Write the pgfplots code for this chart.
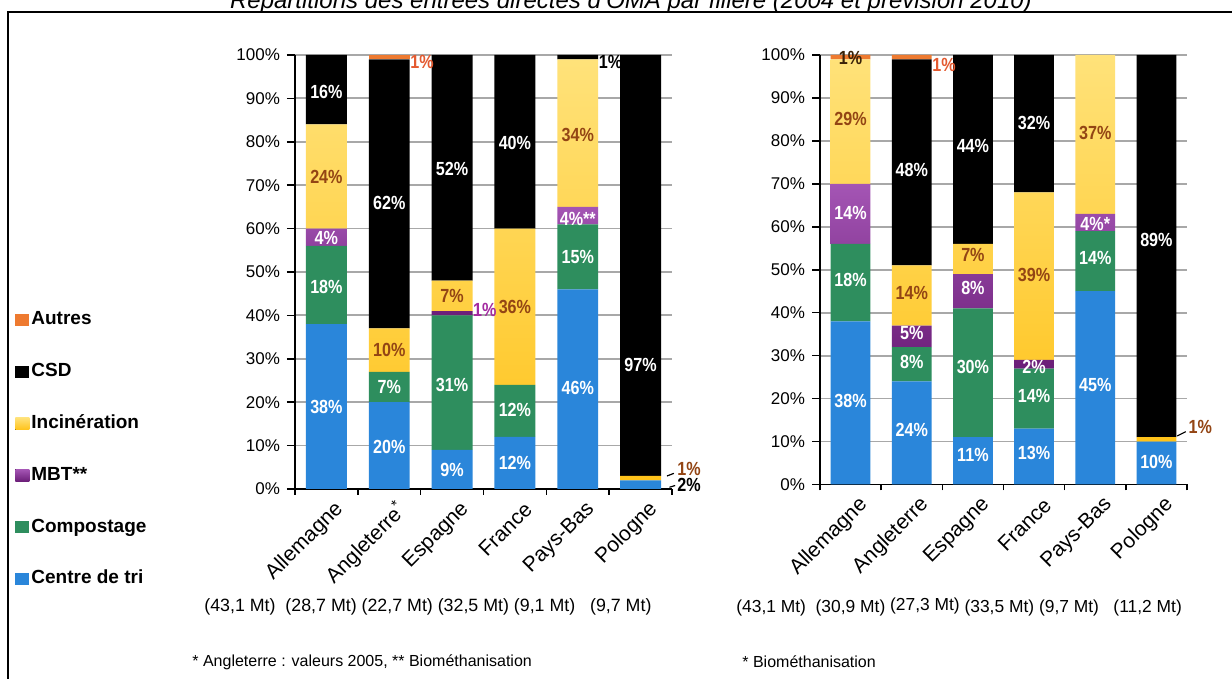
\documentclass[border=0pt]{standalone}
\usepackage{pgfplots}
\pgfplotsset{compat=1.18}
\usepackage{pgfplotstable}
\usepackage{fontspec}
\setmainfont{Liberation Sans}
\newfontfamily\narrowfont[FakeStretch=0.85]{Liberation Sans}

\definecolor{ctri}{HTML}{2A86DA}
\definecolor{ccomp}{HTML}{2E8E5E}
\definecolor{cmbtT}{HTML}{A455B4}
\definecolor{cmbtB}{HTML}{6B1E78}
\definecolor{cincT}{HTML}{FFE27A}
\definecolor{cincB}{HTML}{FFC31A}
\definecolor{caut}{HTML}{EE7A30}
\definecolor{lbrown}{HTML}{934514}
\definecolor{lorange}{HTML}{E45A30}
\definecolor{lpurple}{HTML}{A32AA0}
\definecolor{ldark}{HTML}{3A2208}
\definecolor{gridc}{HTML}{A8A8A8}

\newcommand{\lblfont}{\narrowfont\bfseries\fontsize{9.5}{10}\selectfont}
\newcommand{\lab}[4][white]{\node[text=#1, font=\lblfont, inner sep=0pt] at (axis cs:#2,#3) {#4};}
\newcommand{\olab}[4][black]{\node[text=#1, font=\lblfont, inner sep=0pt, anchor=west] at (axis cs:#2,#3) {#4};}

\pgfplotstableread{
x tri comp mbt inc csd aut
0 38 18 4 24 16 0
1 20 7 0 10 62 1
2 9 31 1 7 52 0
3 12 12 0 36 40 0
4 46 15 4 34 1 0
5 2 0 0 1 97 0
}\leftdata

\pgfplotstableread{
x tri comp mbt inc csd aut
0 38 18 14 29 0 1
1 24 8 5 14 48 1
2 11 30 8 7 44 0
3 13 14 2 39 32 0
4 45 14 4 37 0 0
5 10 0 0 1 89 0
}\rightdata

\pgfplotsset{
  sq/.style={legend image code/.code={\fill[##1] (0pt,-3pt) rectangle (7pt,3pt);}},
  mychart/.style={
    scale only axis,
    ybar stacked,
    bar width=0.65,
    xmin=-0.5, xmax=5.5, ymin=0, ymax=100,
    axis x line*=bottom, axis y line*=left,
    axis line style={line width=0.9pt, black, -},
    xtick={0,...,5},
    minor xtick={-0.5,0.5,...,5.5},
    major x tick style={draw=none},
    minor tick length=3pt,
    major tick length=4pt,
    tick align=outside,
    every tick/.append style={line width=0.8pt, black},
    ytick={0,10,...,100},
    yticklabels={0\%,10\%,20\%,30\%,40\%,50\%,60\%,70\%,80\%,90\%,100\%},
    ymajorgrids,
    major grid style={gridc, line width=0.9pt},
    yticklabel style={font=\fontsize{8.5}{10}\selectfont},
    xticklabel style={rotate=45, anchor=east, font=\fontsize{10.5}{11}\selectfont, xshift=5pt, yshift=-8pt},
    clip=false,
  },
  labaxis/.style={scale only axis, xmin=-0.5, xmax=5.5, ymin=0, ymax=100, hide axis, clip=false},
}

\begin{document}
\begin{tikzpicture}
\useasboundingbox (0,0) rectangle (616pt,339.5pt);
\clip (0,0) rectangle (616pt,339.5pt);
\fill[white] (0,0) rectangle (616pt,339.5pt);
\draw[line width=1.3pt] (4pt,-2pt) -- (4pt,333.5pt) -- (620pt,333.5pt);
\node[anchor=base, font=\itshape\fontsize{12}{14}\selectfont] at (315.5pt,335pt) {Répartitions des entrées directes d'OMA par filière (2004 et prévision 2010)};

% ---------------- left chart (2004)
\begin{axis}[mychart, at={(147.5pt,95pt)}, anchor=south west, width=188.5pt, height=217pt,
  xticklabels={Allemagne,Angleterre\textsuperscript{*},Espagne,France,Pays-Bas,Pologne},
  reverse legend, legend cell align=left,
  legend style={at={(-0.7427,0.4157)}, anchor=north west, draw=none, fill=none, inner sep=0pt,
    row sep=14.9pt, font=\bfseries\fontsize{9.5}{10}\selectfont,
    nodes={inner sep=1pt, text height=7pt, text depth=2pt}}]
\addplot[fill=ctri, draw=none, sq] table[x=x,y=tri]{\leftdata};
\addlegendentry{Centre de tri}
\addplot[fill=ccomp, draw=none, sq] table[x=x,y=comp]{\leftdata};
\addlegendentry{Compostage}
\addplot[top color=cmbtT, bottom color=cmbtB, draw=none, sq] table[x=x,y=mbt]{\leftdata};
\addlegendentry{MBT**}
\addplot[top color=cincT, bottom color=cincB, draw=none, sq] table[x=x,y=inc]{\leftdata};
\addlegendentry{Incinération}
\addplot[fill=black, draw=none, sq] table[x=x,y=csd]{\leftdata};
\addlegendentry{CSD}
\addplot[fill=caut, draw=none, sq] table[x=x,y=aut]{\leftdata};
\addlegendentry{Autres}
\end{axis}
\begin{axis}[labaxis, at={(147.5pt,95pt)}, anchor=south west, width=188.5pt, height=217pt]
\lab{0}{19}{38\%} \lab{0}{46.6}{18\%} \lab{0}{57.8}{4\%} \lab[lbrown]{0}{72}{24\%} \lab{0}{91.5}{16\%}
\lab{1}{9.7}{20\%} \lab{1}{23.6}{7\%} \lab[lbrown]{1}{32}{10\%} \lab{1}{66}{62\%} \olab[lorange]{1.33}{98.3}{1\%}
\lab{2}{4.4}{9\%} \lab{2}{24}{31\%} \olab[lpurple]{2.33}{41.2}{1\%} \lab[lbrown]{2}{44.5}{7\%} \lab{2}{73.8}{52\%}
\lab{3}{6}{12\%} \lab{3}{18.2}{12\%} \lab[lbrown]{3}{42}{36\%} \lab{3}{79.7}{40\%}
\lab{4}{23.3}{46\%} \lab{4}{53.5}{15\%} \lab{4}{62.3}{4\%**} \lab[lbrown]{4}{81.6}{34\%} \olab{4.33}{98.3}{1\%}
\lab{5}{28.6}{97\%} \olab[lbrown]{5.58}{4.6}{1\%} \olab{5.58}{1}{2\%}
\draw[black, line width=0.6pt] (axis cs:5.42,3.0) -- (axis cs:5.53,3.6);
\draw[black, line width=0.6pt] (axis cs:5.46,0.4) -- (axis cs:5.55,0.8);
\end{axis}

% ---------------- right chart (2010)
\begin{axis}[mychart, at={(410pt,97.25pt)}, anchor=south west, width=183.5pt, height=214.75pt,
  xticklabels={Allemagne,Angleterre,Espagne,France,Pays-Bas,Pologne}]
\addplot[fill=ctri, draw=none] table[x=x,y=tri]{\rightdata};
\addplot[fill=ccomp, draw=none] table[x=x,y=comp]{\rightdata};
\addplot[top color=cmbtT, bottom color=cmbtB, draw=none] table[x=x,y=mbt]{\rightdata};
\addplot[top color=cincT, bottom color=cincB, draw=none] table[x=x,y=inc]{\rightdata};
\addplot[fill=black, draw=none] table[x=x,y=csd]{\rightdata};
\addplot[fill=caut, draw=none] table[x=x,y=aut]{\rightdata};
\end{axis}
\begin{axis}[labaxis, at={(410pt,97.25pt)}, anchor=south west, width=183.5pt, height=214.75pt]
\lab{0}{19.5}{38\%} \lab{0}{47.6}{18\%} \lab{0}{63.3}{14\%} \lab[lbrown]{0}{85}{29\%} \lab[ldark]{0}{99.2}{1\%}
\lab{1}{12.7}{24\%} \lab{1}{28.6}{8\%} \lab{1}{35.3}{5\%} \lab[lbrown]{1}{44.6}{14\%} \lab{1}{73.2}{48\%} \olab[lorange]{1.33}{97.7}{1\%}
\lab{2}{6.9}{11\%} \lab{2}{27.4}{30\%} \lab{2}{45.7}{8\%} \lab[lbrown]{2}{53.4}{7\%} \lab{2}{78.8}{44\%}
\lab{3}{7.3}{13\%} \lab{3}{20.6}{14\%} \lab{3}{27.4}{2\%} \lab[lbrown]{3}{48.8}{39\%} \lab{3}{84.2}{32\%}
\lab{4}{23.2}{45\%} \lab{4}{52.7}{14\%} \lab{4}{60.6}{4\%*} \lab[lbrown]{4}{81.8}{37\%}
\lab{5}{5.2}{10\%} \lab{5}{56.9}{89\%} \olab[lbrown]{5.52}{13.4}{1\%}
\draw[black, line width=0.6pt] (axis cs:5.34,11.3) -- (axis cs:5.48,12.3);
\end{axis}

% size rows and footnotes
\node[anchor=west, inner sep=0pt, font=\fontsize{8.9}{10}\selectfont] at (102pt,36pt) {(43,1 Mt)\ \ (28,7 Mt) (22,7 Mt) (32,5 Mt) (9,1 Mt)\ \ \ (9,7 Mt)};
\node[anchor=west, inner sep=0pt, font=\fontsize{8.7}{10}\selectfont] at (368pt,36pt) {(43,1 Mt)\ \ (30,9 Mt) \raisebox{1.2pt}{(27,3 Mt)} (33,5 Mt) (9,7 Mt)\ \ \ (11,2 Mt)};
\node[anchor=west, inner sep=0pt, font=\fontsize{8}{10}\selectfont] at (96pt,8.5pt) {* Angleterre : valeurs 2005, ** Biométhanisation};
\node[anchor=west, inner sep=0pt, font=\fontsize{8}{10}\selectfont] at (371pt,8.5pt) {* Biométhanisation};
\end{tikzpicture}
\end{document}
